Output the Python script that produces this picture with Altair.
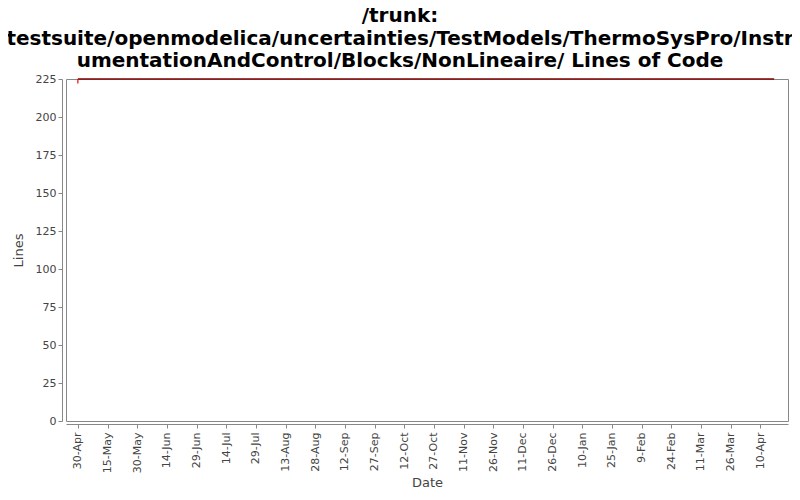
import altair as alt
import pandas as pd

# data
dates = ["2009-04-30", "2010-04-17"]
lines = [225, 225]
first_date = ["2009-04-30"]
tick_dates = ["2009-04-30", "2009-05-15", "2009-05-30", "2009-06-14", "2009-06-29",
              "2009-07-14", "2009-07-29", "2009-08-13", "2009-08-28", "2009-09-12",
              "2009-09-27", "2009-10-12", "2009-10-27", "2009-11-11", "2009-11-26",
              "2009-12-11", "2009-12-26", "2010-01-10", "2010-01-25", "2010-02-09",
              "2010-02-24", "2010-03-11", "2010-03-26", "2010-04-10"]
x_domain = ["2009-04-24", "2010-04-24"]
y_ticks = [0, 25, 50, 75, 100, 125, 150, 175, 200, 225]
title_lines = ["/trunk:",
               "testsuite/openmodelica/uncertainties/TestModels/ThermoSysPro/Instr",
               "umentationAndControl/Blocks/NonLineaire/ Lines of Code"]


def dt(s):
    t = pd.Timestamp(s)
    return alt.DateTime(year=t.year, month=t.month, date=t.day, utc=True)


df = pd.DataFrame({"date": dates, "lines": lines})
df_first = pd.DataFrame({"date": first_date, "top": [225], "bottom": [222]})

FONT = "DejaVu Sans"
GRAY = "#888888"
TXT = "#444444"

xscale = alt.Scale(type="utc", domain=[dt(d) for d in x_domain], nice=False)
yscale = alt.Scale(domain=[0, 225], nice=False, zero=True)

xaxis = alt.Axis(values=[dt(d) for d in tick_dates], format="%-d-%b", labelAngle=-90,
                 title="Date", grid=False, offset=3, labelFontSize=11, titleFontSize=13,
                 labelColor=TXT, titleColor=TXT, domainColor=GRAY, tickColor=GRAY,
                 labelFont=FONT, titleFont=FONT, tickSize=4, labelPadding=4,
                 titleFontWeight="normal", labelBaseline="middle", labelAlign="right",
                 labelOverlap=False, tickCount=100)
yaxis = alt.Axis(values=y_ticks, title="Lines", grid=False, offset=4, labelFontSize=11,
                 titleFontSize=13, labelColor=TXT, titleColor=TXT, domainColor=GRAY,
                 tickColor=GRAY, labelFont=FONT, titleFont=FONT, tickSize=4,
                 titleFontWeight="normal", titlePadding=10, labelOverlap=False,
                 tickCount=100)

line = alt.Chart(df).mark_line(color="#800000", strokeWidth=1.5).encode(
    x=alt.X("date:T", scale=xscale, axis=xaxis),
    y=alt.Y("lines:Q", scale=yscale, axis=yaxis),
)

marker = alt.Chart(df_first).mark_rule(color="#ff0000", strokeWidth=1.2).encode(
    x=alt.X("date:T", scale=xscale),
    y=alt.Y("top:Q", scale=yscale),
    y2="bottom:Q",
)

chart = alt.layer(line, marker).properties(
    width=722, height=342,
    title=alt.TitleParams(text=title_lines, fontSize=20, font=FONT, fontWeight="bold",
                          anchor="middle", color="#000000", dx=-27, offset=2,
                          lineHeight=22.5),
    background="#ffffff",
    autosize=alt.AutoSizeParams(type="none"),
    padding={"left": 58, "top": 71, "right": 4, "bottom": 71},
).configure_view(stroke=GRAY, strokeWidth=1)

chart.save("out.html", embed_options={"renderer": "svg", "actions": False})
